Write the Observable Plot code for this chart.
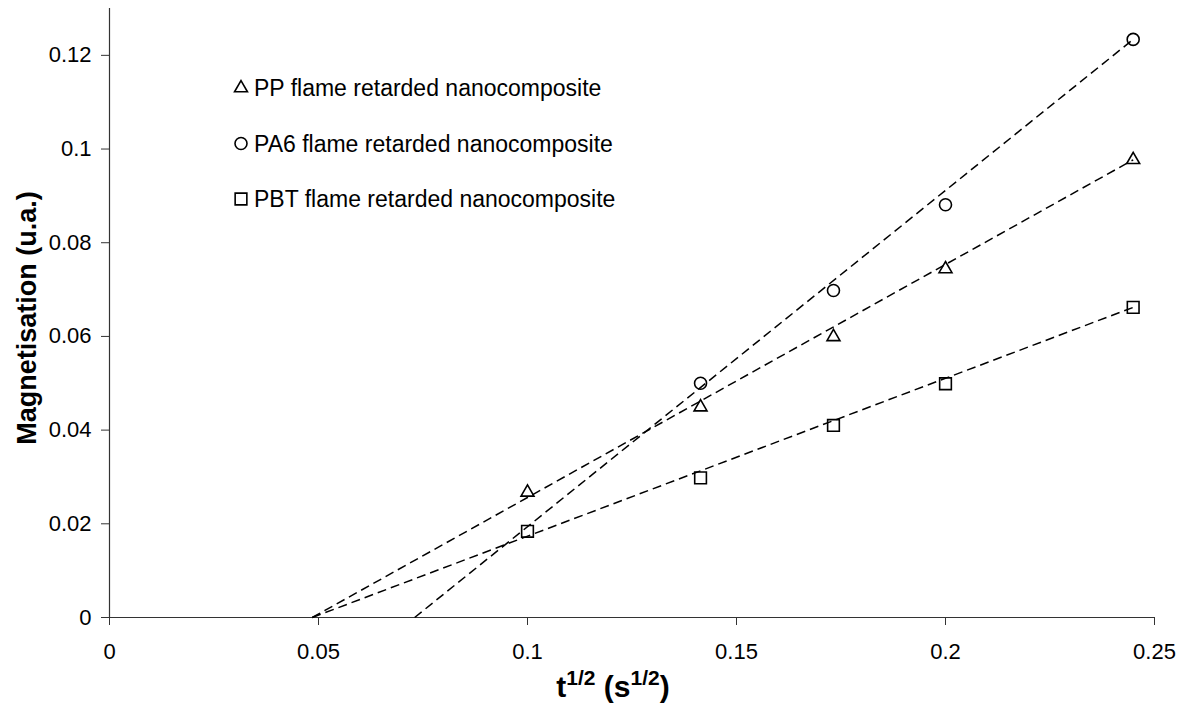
<!DOCTYPE html>
<html>
<head>
<meta charset="utf-8">
<script src="https://cdn.jsdelivr.net/npm/d3@7"></script>
<script src="https://cdn.jsdelivr.net/npm/@observablehq/plot@0.6"></script>
<style>
  html, body { margin: 0; padding: 0; background: #fff; }
  #chart svg { display: block; }
</style>
</head>
<body>
<div id="chart"></div>
<script>
// ---- Data ----
const xValues = [0.1, 0.1414, 0.1732, 0.2, 0.2449];          // t^1/2 (s^1/2)
const ppValues = [0.0267, 0.0449, 0.0599, 0.0744, 0.0977];   // PP (triangles)
const pa6X = [0.1414, 0.1732, 0.2, 0.2449];
const pa6Values = [0.0500, 0.0698, 0.0881, 0.1234];          // PA6 (circles)
const pbtValues = [0.0184, 0.0298, 0.0410, 0.0499, 0.0662];  // PBT (squares)

// dashed trend lines: from x-intercept to last point
const trendNames = ["PP", "PA6", "PBT"];
const trendX1 = [0.0485, 0.073, 0.0485];
const trendY1 = [0, 0, 0];
const trendX2 = [0.2449, 0.2449, 0.2449];
const trendY2 = [0.0977, 0.1234, 0.0662];

const xTicks = [0, 0.05, 0.1, 0.15, 0.2, 0.25];
const xTickLabels = ["0", "0.05", "0.1", "0.15", "0.2", "0.25"];
const yTicks = [0, 0.02, 0.04, 0.06, 0.08, 0.1, 0.12];
const yTickLabels = ["0", "0.02", "0.04", "0.06", "0.08", "0.1", "0.12"];

const legendNames = ["PP flame retarded nanocomposite", "PA6 flame retarded nanocomposite", "PBT flame retarded nanocomposite"];
const legendSymbols = ["triangle", "circle", "square"];

// ---- Build tables ----
const pp = xValues.map((x, i) => ({x, y: ppValues[i]}));
const pa6 = pa6X.map((x, i) => ({x, y: pa6Values[i]}));
const pbt = xValues.map((x, i) => ({x, y: pbtValues[i]}));
const trends = trendNames.map((n, i) => ({n, x1: trendX1[i], y1: trendY1[i], x2: trendX2[i], y2: trendY2[i]}));

const font = "'Liberation Sans', Arial, Helvetica, sans-serif";
const axisColor = "#333";

const chart = Plot.plot({
  width: 1184,
  height: 705,
  marginLeft: 109,
  marginRight: 30,
  marginTop: 8,
  marginBottom: 88,
  style: {fontFamily: font, fontSize: "22px", color: "#000", background: "#fff"},
  x: {domain: [0, 0.25]},
  y: {domain: [0, 0.13]},
  marks: [
    Plot.axisX({ticks: xTicks, tickSize: 8, tickPadding: 18, tickFormat: (d, i) => xTickLabels[i], label: null, stroke: axisColor, fill: "#000", fontSize: 22}),
    Plot.axisY({ticks: yTicks, tickSize: 8, tickPadding: 10, tickFormat: (d, i) => yTickLabels[i], label: null, stroke: axisColor, fill: "#000", fontSize: 22}),
    Plot.ruleY([0], {stroke: axisColor, strokeWidth: 1.2}),
    Plot.ruleX([0], {stroke: axisColor, strokeWidth: 1.2}),
    Plot.link(trends, {x1: "x1", y1: "y1", x2: "x2", y2: "y2", stroke: "#000", strokeWidth: 1.5, strokeDasharray: "9,5"}),
    Plot.dot(pp, {x: "x", y: "y", symbol: "triangle", r: 4.8, stroke: "#000", strokeWidth: 1.6, fill: "none"}),
    Plot.dot(pa6, {x: "x", y: "y", symbol: "circle", r: 6, stroke: "#000", strokeWidth: 1.6, fill: "none"}),
    Plot.dot(pbt, {x: "x", y: "y", symbol: "square", r: 6.6, stroke: "#000", strokeWidth: 1.6, fill: "none"})
  ]
});

document.getElementById("chart").appendChild(chart);

// ---- Legend and axis titles ----
const svg = d3.select(chart);
const symMap = {triangle: d3.symbolTriangle, circle: d3.symbolCircle, square: d3.symbolSquare};
const symR = {triangle: 4.8, circle: 6, square: 6.6};
const lg = svg.append("g").attr("font-family", font).attr("font-size", 23).attr("text-anchor", "start");
legendNames.forEach((name, i) => {
  const cy = 88 + i * 55.5;
  const s = legendSymbols[i];
  lg.append("path")
    .attr("d", d3.symbol(symMap[s], Math.PI * symR[s] * symR[s])())
    .attr("transform", `translate(241,${cy})`)
    .attr("fill", "none").attr("stroke", "#000").attr("stroke-width", 1.6);
  lg.append("text").attr("x", 254).attr("y", cy).attr("dy", "0.36em").attr("fill", "#000").attr("text-anchor", "start").text(name);
});

svg.append("text")
  .attr("transform", "translate(36,318) rotate(-90)")
  .attr("text-anchor", "middle")
  .attr("font-family", font).attr("font-size", 27).attr("font-weight", "bold").attr("fill", "#000")
  .text("Magnetisation (u.a.)");

const xt = svg.append("text")
  .attr("x", 613).attr("y", 697)
  .attr("text-anchor", "middle")
  .attr("font-family", font).attr("font-size", 30).attr("font-weight", "bold").attr("fill", "#000");
xt.append("tspan").text("t");
xt.append("tspan").attr("font-size", 21).attr("dy", -12).text("1/2");
xt.append("tspan").attr("dy", 12).text(" (s");
xt.append("tspan").attr("font-size", 21).attr("dy", -12).text("1/2");
xt.append("tspan").attr("dy", 12).text(")");
</script>
</body>
</html>
